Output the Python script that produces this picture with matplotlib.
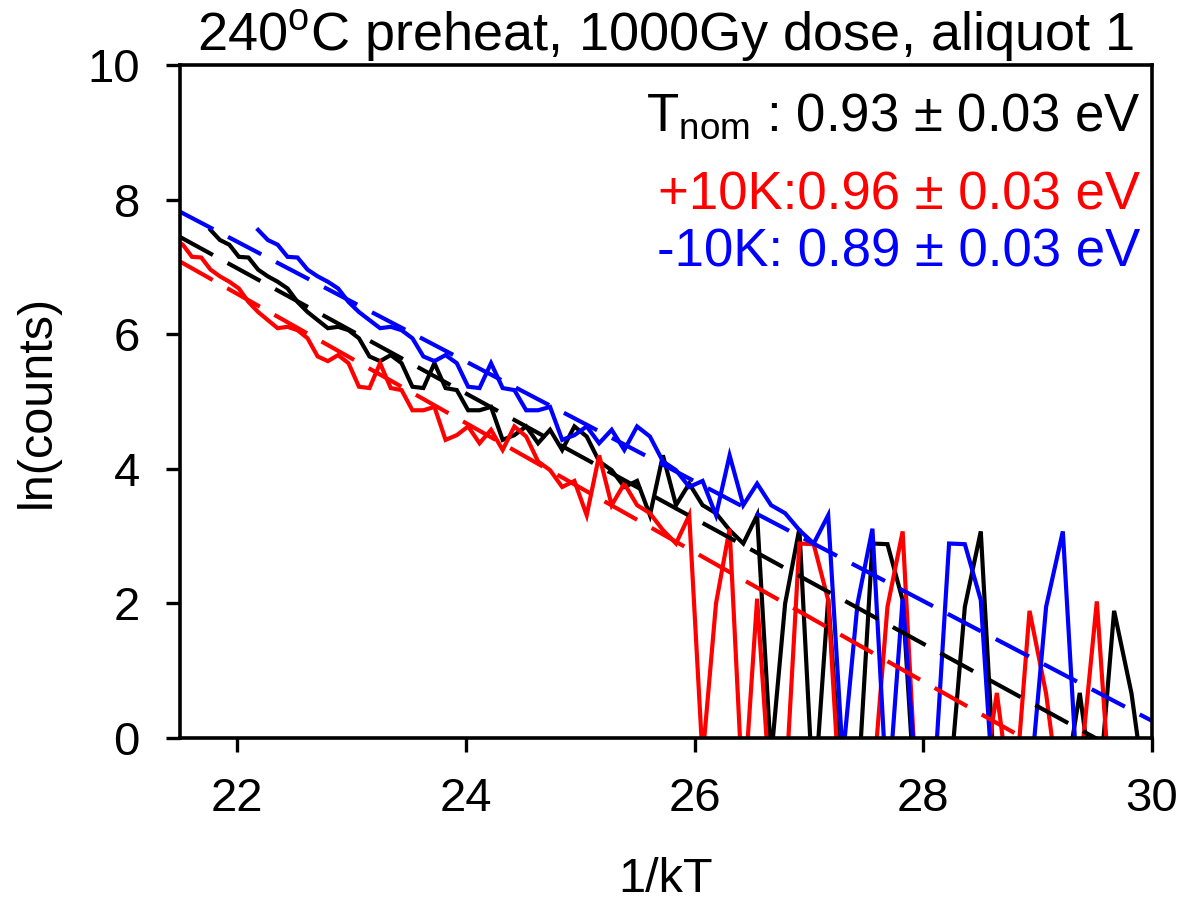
import numpy as np
import matplotlib
matplotlib.use('Agg')
import matplotlib.pyplot as plt

plt.rcParams['font.family'] = ['Liberation Sans', 'DejaVu Sans']
plt.rcParams['mathtext.fontset'] = 'custom'
plt.rcParams['mathtext.rm'] = 'Liberation Sans'
plt.rcParams['mathtext.it'] = 'Liberation Sans:italic'
plt.rcParams['mathtext.bf'] = 'Liberation Sans:bold'
plt.rcParams['lines.scale_dashes'] = False

k_B = 8.617e-5  # eV/K

# nominal temperatures of the channels (deg C), 2 K steps
temp_C = [260, 258, 256, 254, 252, 250, 248, 246, 244, 242,
          240, 238, 236, 234, 232, 230, 228, 226, 224, 222,
          220, 218, 216, 214, 212, 210, 208, 206, 204, 202,
          200, 198, 196, 194, 192, 190, 188, 186, 184, 182,
          180, 178, 176, 174, 172, 170, 168, 166, 164, 162,
          160, 158, 156, 154, 152, 150, 148, 146, 144, 142,
          140, 138, 136, 134, 132, 130, 128, 126, 124, 122,
          120, 118, 116, 114, 112, 110, 108]

# ln(counts) (values below 0 are hidden by the axis)
ln_counts = [7.55, 7.40, 7.33, 7.15, 7.14, 6.96, 6.86, 6.78, 6.68, 6.48,
             6.33, 6.21, 6.09, 6.11, 6.06, 5.94, 5.67, 5.60, 5.69, 5.57,
             5.22, 5.20, 5.57, 5.20, 5.17, 4.87, 4.87, 4.92, 4.43, 4.50,
             4.63, 4.38, 4.58, 4.28, 4.63, 4.48, 4.11, 3.98, 3.73, 3.82,
             3.31, 4.20, 3.46, 3.78, 3.46, 3.34, 3.09, 2.89, 3.31, -0.3,
             2.00, 3.11, -1.0, 2.07, -1.0, -0.85, 2.89, 2.88, 2.05, -1.6,
             -1.5, -0.8, 1.95, 3.07, -1.26, -1.5, -1.5, -1.5, -0.9, 0.67,
             -1.2, 1.89, 0.66, -1.25, -0.55, 2.03, -1.7]

# temperature offsets and fitted lines (activation energy, intercept)
offsets = [0, 10, -10]
colors = ['black', 'red', 'blue']
energies = [0.93, 0.96, 0.89]
intercepts = [27.44, 27.72, 26.955]
labels = [r'T$_{\mathrm{nom}}$ : 0.93 ± 0.03 eV',
          '+10K:0.96 ± 0.03 eV',
          '-10K: 0.89 ± 0.03 eV']
label_y = [0.903, 0.786, 0.700]

T = np.array(temp_C) + 273.15
y = np.array(ln_counts)

fig = plt.figure(figsize=(11.86, 9.11), dpi=100)
ax = fig.add_axes([0.1518, 0.1899, 0.8195, 0.7387])

for off, c in zip(offsets, colors):
    x = 1.0 / (k_B * (T + off))
    ax.plot(x, y, color=c, lw=3.0, solid_joinstyle='miter')

xfit = np.array([21.5, 30.0])
for E, a, c in zip(energies, intercepts, colors):
    ax.plot(xfit, a - E * xfit, color=c, lw=3.0, dashes=(27, 12))

for lab, ly, c in zip(labels, label_y, colors):
    ax.text(0.988, ly, lab, color=c, fontsize=38, ha='right', va='baseline',
            transform=ax.transAxes)

ax.set_xlim(21.5, 30)
ax.set_ylim(0, 10)
ax.set_xticks([22, 24, 26, 28, 30])
ax.set_yticks([0, 2, 4, 6, 8, 10])
ax.tick_params(direction='out', length=10, width=2.4, labelsize=34)
ax.tick_params(axis='x', pad=18)
ax.tick_params(axis='y', pad=19)
for s in ax.spines.values():
    s.set_linewidth(2.6)

ax.set_xlabel('1/kT', fontsize=35, labelpad=26)
ax.set_ylabel('ln(counts)', fontsize=35, labelpad=20)
ax.set_title(r'240$^{\mathrm{o}}$C preheat, 1000Gy dose, aliquot 1', fontsize=39, pad=2)

fig.savefig('out.png', dpi=100)
